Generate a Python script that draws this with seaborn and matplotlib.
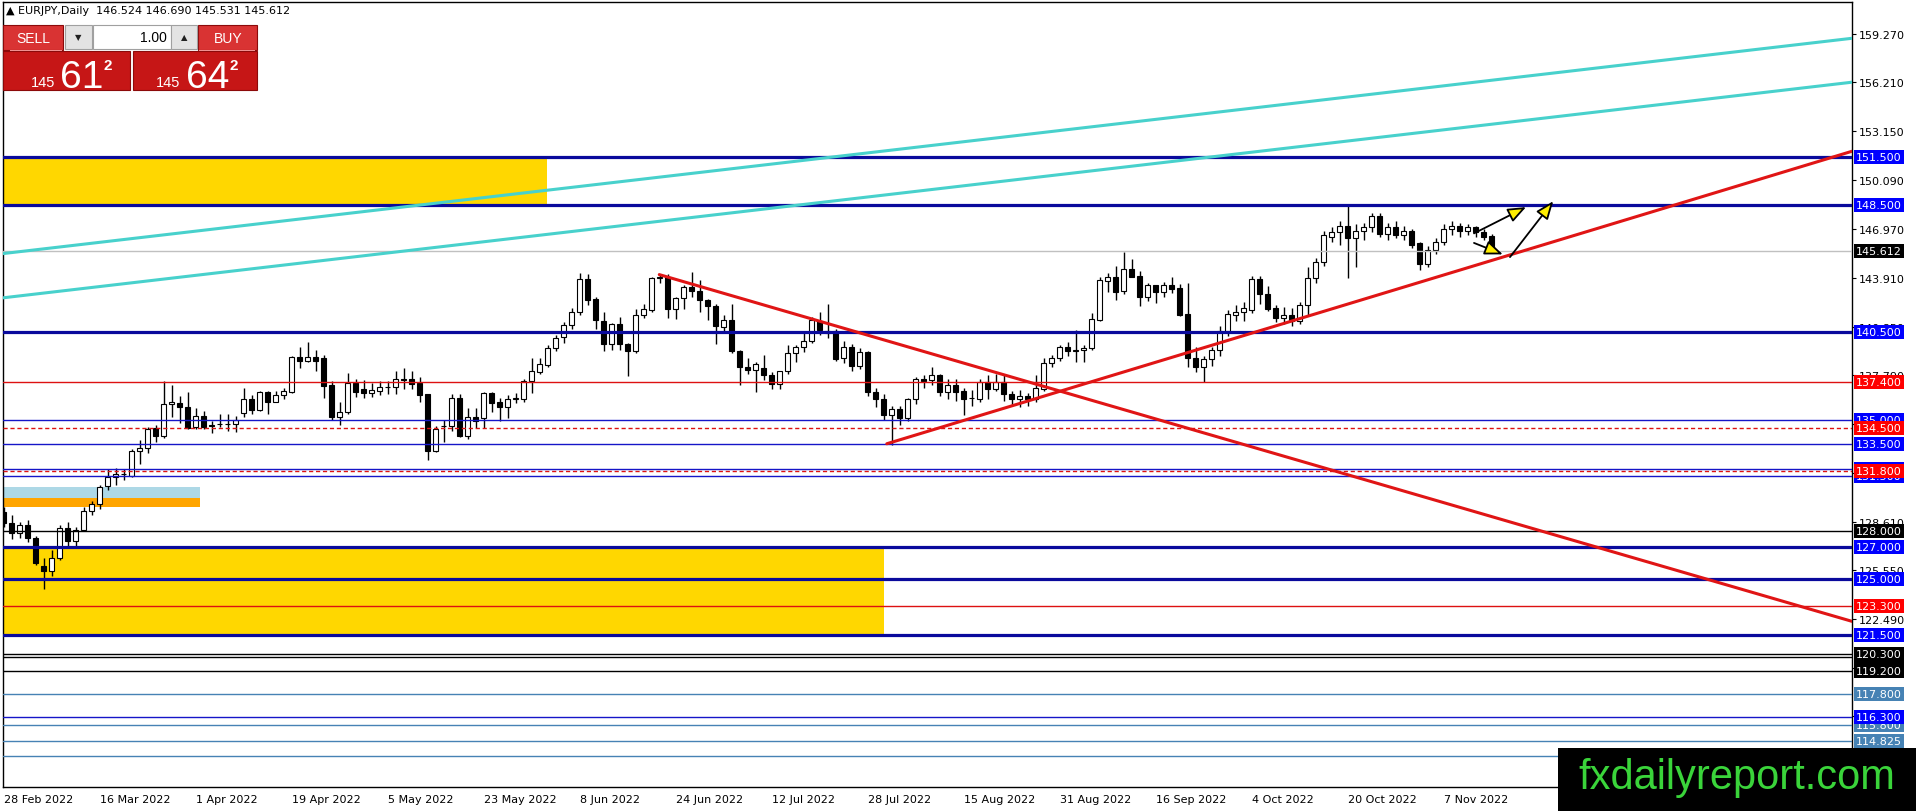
import matplotlib
matplotlib.use("Agg")
import matplotlib.pyplot as plt
from matplotlib.patches import Rectangle
import seaborn as sns

# daily EURJPY candles, bar 0 = 28 Feb 2022
opens = [
    129.2, 128.5, 127.9, 128.4, 127.6, 125.8, 125.5, 126.3, 128.2, 127.4,
    128.1, 129.3, 129.7, 130.85, 131.4, 131.6, 131.5, 133.07, 133.23, 134.5,
    133.98, 136.0, 136.09, 135.8, 134.54, 135.24, 134.65, 134.74, 134.75, 134.71,
    135.43, 136.32, 135.59, 136.74, 136.15, 136.59, 136.78, 138.94, 138.67, 138.94,
    138.88, 137.2, 135.17, 135.52, 137.3, 136.92, 136.7, 136.84, 137.07, 137.07,
    137.6, 137.55, 137.3, 136.6, 133.07, 134.6, 134.6, 136.4, 134.0, 135.2,
    135.1, 136.67, 136.1, 135.83, 136.34, 136.3, 137.45, 138.03, 138.45, 139.5,
    140.23, 140.96, 141.8, 143.85, 142.6, 141.24, 139.76, 141.03, 139.76, 139.34,
    141.6, 141.91, 143.9, 143.99, 141.95, 142.65, 143.34, 143.11, 142.54, 142.18,
    140.86, 141.28, 139.34, 138.33, 138.12, 138.27, 137.8, 137.28, 138.05, 139.2,
    139.6, 139.95, 141.22, 140.6, 140.6, 138.9, 139.6, 138.37, 139.24, 136.75,
    136.3, 135.3, 135.7, 135.1, 136.3, 137.55, 137.5, 137.8, 136.75, 137.17,
    136.8, 136.35, 136.3, 137.4, 136.95, 137.4, 136.6, 136.3, 136.5, 136.3,
    136.96, 138.6, 138.9, 139.6, 139.35, 139.4, 139.5, 141.3, 143.72, 143.97,
    143.13, 144.49, 144.07, 142.71, 143.49, 143.06, 143.49, 143.28, 141.67, 138.9,
    138.3, 138.8, 139.4, 140.6, 141.62, 141.77, 141.9, 143.86, 142.88, 142.0,
    141.4, 141.6, 141.2, 142.2, 143.9, 144.9, 146.5, 146.8, 147.2, 146.4,
    146.9, 147.1, 147.8, 146.7, 147.1, 146.6, 146.9, 146.1, 144.8, 145.7,
    146.2, 147.0, 147.2, 146.9, 147.1, 146.8, 146.524,
]
highs = [
    129.5, 129.0, 128.6, 128.7, 127.7, 126.3, 126.8, 128.4, 128.6, 128.3,
    129.5, 129.9, 130.9, 131.9, 132.0, 131.9, 133.2, 133.75, 134.55, 134.65,
    137.47, 137.2, 136.53, 136.74, 135.74, 135.53, 134.96, 135.38, 135.38, 135.27,
    137.0, 136.57, 136.82, 136.84, 136.82, 137.0, 139.0, 139.57, 139.92, 139.4,
    139.09, 137.45, 136.1, 137.93, 137.55, 137.5, 137.3, 137.45, 137.45, 138.1,
    138.24, 138.07, 137.68, 136.6, 134.64, 134.98, 136.6, 136.6, 135.73, 135.73,
    136.73, 136.78, 136.36, 136.57, 136.67, 137.6, 138.9, 138.9, 139.7, 140.33,
    141.17, 142.0, 144.23, 144.16, 142.71, 141.76, 141.1, 141.45, 139.8, 141.95,
    142.29, 144.0, 144.18, 144.16, 142.71, 143.49, 144.29, 143.8, 142.6, 142.27,
    141.6, 142.29, 139.4, 138.9, 138.65, 139.1, 138.0, 138.1, 139.7, 139.7,
    140.54, 141.49, 141.8, 142.27, 140.7, 139.95, 139.76, 139.5, 139.3, 137.0,
    136.6, 135.9, 135.9, 136.4, 137.7, 137.8, 138.3, 137.9, 137.6, 137.6,
    137.0, 136.9, 137.6, 137.8, 137.9, 137.8, 136.8, 136.9, 136.7, 137.8,
    138.9, 139.1, 139.7, 139.9, 140.65, 139.7, 141.7, 143.97, 144.26, 144.7,
    145.58, 145.1, 144.38, 143.61, 143.5, 143.65, 143.97, 143.55, 143.61, 139.6,
    139.0, 139.6, 140.9, 141.9, 142.25, 142.4, 144.07, 144.07, 143.44, 142.2,
    142.1, 142.0, 142.4, 144.6, 145.2, 146.9, 147.1, 147.5, 148.45, 147.3,
    147.4, 148.0, 148.0, 147.4, 147.5, 147.2, 147.0, 146.2, 145.9, 146.4,
    147.3, 147.5, 147.4, 147.3, 147.2, 147.0, 146.69,
]
lows = [
    128.3, 127.5, 127.6, 127.3, 125.9, 124.4, 125.2, 126.2, 127.1, 127.1,
    128.0, 129.0, 129.4, 130.6, 130.9, 131.2, 131.4, 132.2, 132.9, 133.6,
    133.85, 135.2, 134.8, 134.44, 134.44, 134.44, 134.17, 134.55, 134.3, 134.23,
    135.17, 135.38, 135.57, 135.38, 136.12, 136.32, 136.7, 138.27, 138.63, 138.1,
    136.37, 135.0, 134.7, 135.35, 136.42, 136.4, 136.42, 136.57, 136.65, 136.6,
    136.94, 136.94, 136.1, 132.5, 133.0, 133.64, 134.3, 133.9, 133.8, 134.47,
    134.52, 135.52, 134.9, 135.1, 136.07, 136.1, 136.67, 137.9, 138.3, 139.3,
    139.8, 140.7, 141.6, 142.23, 140.7, 139.32, 139.38, 139.38, 137.76, 139.2,
    141.4, 141.8, 143.6, 141.38, 141.34, 141.95, 142.75, 141.8, 141.28, 139.74,
    140.5, 139.2, 137.17, 137.9, 136.75, 137.5, 136.92, 136.96, 137.9, 138.65,
    139.28, 139.8, 140.33, 140.12, 138.71, 138.6, 138.06, 138.2, 136.5, 135.8,
    135.0, 133.45, 134.7, 134.9, 136.0, 137.0, 137.2, 136.5, 136.33, 136.2,
    135.3, 135.9, 136.1, 136.3, 136.8, 136.2, 135.9, 135.8, 135.9, 136.1,
    136.8, 138.3, 138.7, 139.0, 138.65, 138.65, 139.4, 141.2, 143.06, 142.56,
    142.9, 143.97, 142.18, 142.44, 142.35, 142.71, 142.96, 141.52, 138.3, 138.0,
    137.4, 138.4, 139.0, 140.3, 141.2, 141.24, 141.7, 142.29, 141.87, 141.14,
    141.0, 140.9, 141.0, 141.5, 143.6, 144.7, 146.2, 146.0, 143.9, 144.6,
    146.3, 146.8, 146.5, 146.3, 146.4, 146.3, 145.8, 144.4, 144.6, 145.4,
    146.0, 146.6, 146.5, 146.6, 146.5, 146.3, 145.531,
]
closes = [
    128.5, 127.9, 128.4, 127.6, 126.0, 125.5, 126.3, 128.2, 127.4, 128.1,
    129.3, 129.7, 130.8, 131.4, 131.6, 131.6, 133.07, 133.25, 134.44, 133.98,
    136.0, 136.1, 135.8, 134.52, 135.24, 134.58, 134.63, 134.77, 134.73, 135.02,
    136.32, 135.59, 136.74, 136.15, 136.59, 136.8, 138.94, 138.67, 138.94, 138.67,
    137.13, 135.17, 135.52, 137.3, 136.73, 136.7, 136.86, 137.07, 137.05, 137.59,
    137.5, 137.26, 136.57, 133.07, 134.43, 134.62, 136.4, 134.0, 135.2, 134.96,
    136.67, 136.09, 135.83, 136.3, 136.38, 137.45, 138.07, 138.49, 139.5, 140.17,
    140.96, 141.8, 143.85, 142.54, 141.28, 139.76, 141.03, 139.76, 139.34, 141.6,
    141.95, 143.91, 143.95, 141.95, 142.65, 143.38, 143.11, 142.54, 142.18, 140.9,
    141.28, 139.34, 138.33, 138.12, 138.54, 137.8, 137.28, 138.05, 139.2, 139.6,
    139.95, 141.28, 140.65, 140.44, 138.8, 139.6, 138.37, 139.24, 136.75, 136.33,
    135.3, 135.7, 135.1, 136.3, 137.6, 137.45, 137.8, 136.75, 137.17, 136.75,
    136.3, 136.4, 137.4, 136.95, 137.4, 136.6, 136.3, 136.5, 136.3, 137.0,
    138.6, 138.9, 139.6, 139.3, 139.4, 139.5, 141.35, 143.82, 143.97, 143.06,
    144.49, 144.0, 142.71, 143.49, 143.06, 143.49, 143.23, 141.6, 138.9, 138.3,
    138.8, 139.4, 140.6, 141.67, 141.77, 142.0, 143.86, 142.88, 141.97, 141.4,
    141.6, 141.2, 142.2, 143.9, 144.9, 146.6, 146.8, 147.2, 146.4, 146.9,
    147.1, 147.8, 146.7, 147.1, 146.6, 146.9, 146.0, 144.8, 145.7, 146.2,
    147.0, 147.2, 146.9, 147.1, 146.8, 146.5, 145.612,
]

date_labels = ["28 Feb 2022", "16 Mar 2022", "1 Apr 2022", "19 Apr 2022", "5 May 2022",
               "23 May 2022", "8 Jun 2022", "24 Jun 2022", "12 Jul 2022", "28 Jul 2022",
               "15 Aug 2022", "31 Aug 2022", "16 Sep 2022", "4 Oct 2022", "20 Oct 2022",
               "7 Nov 2022"]
date_bars = [0, 12, 24, 36, 48, 60, 72, 84, 96, 108, 120, 132, 144, 156, 168, 180]

price_ticks = [159.27, 156.21, 153.15, 150.09, 146.97, 143.91, 140.85, 137.79,
               134.73, 131.67, 128.61, 125.55, 122.49, 119.43, 116.37, 113.31]

# horizontal levels and their kind (order = drawing order of the tags)
levels = [151.5, 148.5, 145.612, 140.5, 137.4, 135.0, 134.5, 133.5, 131.9, 131.5, 131.8,
          128.0, 127.0, 125.0, 123.3, 121.5, 120.1, 120.3, 119.2, 117.8, 115.8, 116.3,
          114.825, 113.9]
level_kinds = ["thick", "thick", "bid", "thick", "red", "blue", "reddash", "blue", "blue",
               "blue", "reddash", "black", "thick", "thick", "red", "thick", "black",
               "black", "black", "steel", "steel", "blue", "steel", "steel"]

# rectangles: bar from, bar to, price low, price high
zone_x0 = [-1, -1, -1, -1]
zone_x1 = [67.9, 110.0, 24.6, 24.6]
zone_lo = [148.5, 121.5, 130.1, 129.55]
zone_hi = [151.6, 127.0, 130.8, 130.1]
zone_colors = ["#FFD700", "#FFD700", "#ADD8E6", "#FFA500"]

# trend lines (bar, price)
up_trend_x, up_trend_y = [110.4, 231.05], [133.5, 151.88]
down_trend_x, down_trend_y = [81.96, 231.05], [144.13, 122.34]
chan_x = [-0.075, 231.05]
chan_upper_y = [145.45, 158.98]
chan_lower_y = [142.67, 156.22]

# arrows (bar, price)
arrow_start = [(183.8, 146.72), (183.8, 146.12), (188.3, 145.23)]
arrow_end = [(190.3, 148.37), (187.4, 145.4), (193.7, 148.74)]

sns.set_theme(style="white")
plt.rcParams["font.family"] = ["DejaVu Sans"]

W, H = 1916, 812
fig = plt.figure(figsize=(W / 100, H / 100), dpi=100)
fig.patch.set_facecolor("white")
ax = fig.add_axes([3 / W, 24 / H, 1849 / W, 785 / H])
ax.set_facecolor("white")
ax.set_xlim(-0.075, 231.05)
ax.set_ylim(111.93, 161.26)

for x0, x1, lo, hi, col in zip(zone_x0, zone_x1, zone_lo, zone_hi, zone_colors):
    ax.fill_between([x0, x1], lo, hi, color=col, lw=0, zorder=1)

# candles
idx = list(range(len(opens)))
bottoms = [min(o, c) for o, c in zip(opens, closes)]
heights = [max(abs(c - o), 0.025) for o, c in zip(opens, closes)]
fills = ["white" if c >= o else "black" for o, c in zip(opens, closes)]
ax.vlines(idx, lows, highs, color="black", lw=1.0, zorder=3)
ax.bar(idx, heights, bottom=bottoms, width=0.62, color=fills, edgecolor="black",
       linewidth=0.8, zorder=3.5)

styles = {
    "thick": dict(color="#0a0a9c", lw=2.3, ls="-"),
    "blue": dict(color="#1515c8", lw=1.0, ls="-"),
    "red": dict(color="#dd1111", lw=1.0, ls="-"),
    "reddash": dict(color="#dd1111", lw=1.0, ls=(0, (3, 2))),
    "black": dict(color="black", lw=1.0, ls="-"),
    "steel": dict(color="#4682B4", lw=1.0, ls="-"),
    "bid": dict(color="#c0c0c0", lw=1.0, ls="-"),
}
tag_bg = {"thick": "#0000FF", "blue": "#0000FF", "red": "#FF0000", "reddash": "#FF0000",
          "black": "black", "steel": "#4682B4", "bid": "black"}

for lv, kind in zip(levels, level_kinds):
    ax.axhline(lv, zorder=4, **styles[kind])

# trend lines
sns.lineplot(x=chan_x, y=chan_upper_y, ax=ax, color="#48D1CC", lw=2.2, zorder=5, legend=False)
sns.lineplot(x=chan_x, y=chan_lower_y, ax=ax, color="#48D1CC", lw=2.2, zorder=5, legend=False)
sns.lineplot(x=down_trend_x, y=down_trend_y, ax=ax, color="#e01515", lw=2.2, zorder=5, legend=False)
sns.lineplot(x=up_trend_x, y=up_trend_y, ax=ax, color="#e01515", lw=2.2, zorder=5, legend=False)

for (xs, ys), (xe, ye) in zip(arrow_start, arrow_end):
    ax.annotate("", xy=(xe, ye), xytext=(xs, ys), zorder=6,
                arrowprops=dict(arrowstyle="-|>,head_length=0.55,head_width=0.22",
                                fc="#FFEE00", ec="black", lw=1.3, mutation_scale=20,
                                shrinkA=0, shrinkB=0))

# axes look like MT4
for sp in ax.spines.values():
    sp.set_color("black")
    sp.set_linewidth(1.0)
ax.yaxis.tick_right()
ax.set_yticks(price_ticks)
ax.set_yticklabels([f"{p:.3f}" for p in price_ticks], fontsize=8)
ax.set_xticks(date_bars)
ax.set_xticklabels(date_labels, fontsize=8, ha="left")
ax.tick_params(axis="y", direction="out", length=3, width=0.8, pad=2, colors="black")
ax.tick_params(axis="x", direction="out", length=3, width=0.8, pad=2, colors="black")
ax.grid(False)

# price tags on the right scale
ytr = ax.get_yaxis_transform()
for lv, kind in zip(levels, level_kinds):
    ax.text(1.0 + 4 / 1849, lv, f"{lv:.3f}", transform=ytr, fontsize=8, color="white",
            va="center", ha="left", clip_on=False, zorder=10,
            bbox=dict(boxstyle="square,pad=0.18", fc=tag_bg[kind], ec="none"))


def box(x0, y0, x1, y1, **kw):
    fig.add_artist(Rectangle((x0 / W, 1 - y1 / H), (x1 - x0) / W, (y1 - y0) / H,
                             transform=fig.transFigure, **kw))


def label(x, y, s, **kw):
    fig.text(x / W, 1 - y / H, s, **kw)


# header
label(6, 11, "▲ EURJPY,Daily  146.524 146.690 145.531 145.612", fontsize=8,
      color="black", va="center", ha="left", zorder=20)

# one-click trading panel
box(3, 52, 130, 91, fc="#c61616", ec="#8c0a0a", lw=0.8, zorder=20)
box(133, 52, 257, 91, fc="#c61616", ec="#8c0a0a", lw=0.8, zorder=20)
box(3, 26, 63, 51, fc="#d93333", ec="#8c0a0a", lw=0.8, zorder=20)
box(198, 26, 257, 51, fc="#d93333", ec="#8c0a0a", lw=0.8, zorder=20)
box(65, 26, 92, 50, fc="#e3e3e3", ec="#a0a0a0", lw=0.8, zorder=20)
box(93, 26, 171, 50, fc="white", ec="#a0a0a0", lw=0.8, zorder=20)
box(171, 26, 197, 50, fc="#e3e3e3", ec="#a0a0a0", lw=0.8, zorder=20)
box(10, 51, 62, 52, fc="#f09090", ec="none", zorder=21)
box(199, 51, 255, 52, fc="#f09090", ec="none", zorder=21)

pan = dict(family="Liberation Sans", zorder=22)
label(33, 39, "SELL", fontsize=10, color="white", ha="center", va="center", **pan)
label(228, 39, "BUY", fontsize=10, color="white", ha="center", va="center", **pan)
label(78, 38, "▼", fontsize=6, color="#202020", ha="center", va="center", zorder=22)
label(184, 38, "▲", fontsize=6, color="#202020", ha="center", va="center", zorder=22)
label(167, 38, "1.00", fontsize=10, color="black", ha="right", va="center", **pan)
label(31, 87, "145", fontsize=10.5, color="white", ha="left", va="baseline", **pan)
label(60, 88, "61", fontsize=28, color="white", ha="left", va="baseline", **pan)
label(104, 70, "2", fontsize=11, color="white", ha="left", va="baseline",
      fontweight="bold", **pan)
label(156, 87, "145", fontsize=10.5, color="white", ha="left", va="baseline", **pan)
label(186, 88, "64", fontsize=28, color="white", ha="left", va="baseline", **pan)
label(230, 70, "2", fontsize=11, color="white", ha="left", va="baseline",
      fontweight="bold", **pan)

# watermark
box(1558, 749, 1916, 812, fc="black", ec="none", zorder=30)
label(1737, 778, "fxdailyreport.com", fontsize=30, color="#3ad43a", ha="center",
      va="center", family="Liberation Sans", zorder=31)

fig.savefig("out.png", dpi=100)
